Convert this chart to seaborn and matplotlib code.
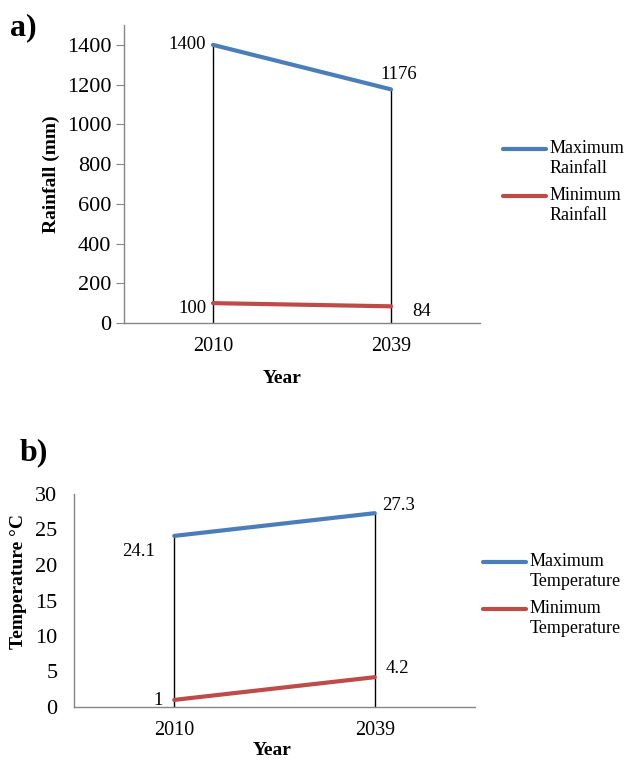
import numpy as np
import pandas as pd
import matplotlib
matplotlib.use("Agg")
import matplotlib.pyplot as plt
from matplotlib.legend_handler import HandlerLine2D
import seaborn as sns

years = ["2010", "2039"]
rain_max = [1400, 1176]
rain_min = [100, 84]
temp_max = [24.1, 27.3]
temp_min = [1, 4.2]
rain_labels = ["Maximum\nRainfall", "Minimum\nRainfall"]
temp_labels = ["Maximum\nTemperature", "Minimum\nTemperature"]

sns.set_style("white")
plt.rcParams['font.family'] = ['Liberation Serif', 'DejaVu Serif']
plt.rcParams['text.color'] = 'black'
plt.rcParams['axes.labelcolor'] = 'black'
plt.rcParams['xtick.color'] = 'black'
plt.rcParams['ytick.color'] = 'black'

BLUE = "#4A7EBB"
RED = "#BE4B48"
GREY = "#868686"


class TopLineHandler(HandlerLine2D):
    def create_artists(self, legend, orig_handle, xdescent, ydescent,
                       width, height, fontsize, trans):
        arts = super().create_artists(legend, orig_handle, xdescent, ydescent,
                                      width, height, fontsize, trans)
        for a in arts:
            a.set_ydata(np.asarray(a.get_ydata()) + 0.55 * fontsize)
        return arts


fig = plt.figure(figsize=(6.25, 7.61), dpi=100)
axA = fig.add_axes([124/625, 1-323/761, 356/625, 298/761])
axB = fig.add_axes([74/625, 1-707/761, 401/625, 213/761])


def make_df(maxv, minv, labels):
    return pd.DataFrame({
        "Year": years * 2,
        "value": list(maxv) + list(minv),
        "series": [labels[0]] * len(years) + [labels[1]] * len(years),
    })


def draw(ax, maxv, minv, labels, ylim, yticks, ylabel, ann, tick_len, tick_pad):
    df = make_df(maxv, minv, labels)
    sns.lineplot(data=df, x="Year", y="value", hue="series",
                 palette=[BLUE, RED], linewidth=3, sort=False, ax=ax,
                 legend=True)
    pos = np.arange(len(years))
    ax.vlines(pos, 0, maxv, color="black", linewidth=1, zorder=1)
    ax.set_xlim(-0.5, len(years) - 0.5)
    ax.set_ylim(*ylim)
    ax.set_yticks(yticks)
    ax.set_xticks(pos)
    ax.set_xticklabels(years)
    for s in ["top", "right"]:
        ax.spines[s].set_visible(False)
    for s in ["left", "bottom"]:
        ax.spines[s].set_color(GREY)
        ax.spines[s].set_linewidth(1)
    ax.tick_params(axis="y", left=True, length=tick_len, color=GREY,
                   labelcolor="black", pad=tick_pad, labelsize=16)
    ax.tick_params(axis="x", length=0, pad=10, labelsize=14.5,
                   labelcolor="black")
    ax.set_xlabel("Year", fontsize=14, fontweight="bold", color="black")
    ax.set_ylabel(ylabel, fontsize=14, fontweight="bold", color="black")
    vals = [maxv, minv]
    for (si, i, dx, dy, ha) in ann:
        v = vals[si][i]
        txt = f"{v:g}"
        ax.annotate(txt, (pos[i], v), xytext=(dx, -dy),
                    textcoords="offset pixels", ha=ha, va="center",
                    fontsize=13.5, color="black")
    ax.get_legend().remove()


annA = [(0, 0, -7, 0, "right"), (0, 1, 8, -15, "center"),
        (1, 0, -6, 5, "right"), (1, 1, 21, 5, "left")]
annB = [(0, 0, -19, 16, "right"), (0, 1, 7, -8, "left"),
        (1, 0, -11, 1, "right"), (1, 1, 11, -9, "left")]

draw(axA, rain_max, rain_min, rain_labels, (0, 1500),
     list(range(0, 1401, 200)), "Rainfall (mm)", annA, 6, 3)
draw(axB, temp_max, temp_min, temp_labels, (0, 30),
     list(range(0, 31, 5)), "Temperature °C", annB, 0, 12)

axA.xaxis.set_label_coords(0.444, -0.158)
axA.yaxis.set_label_coords(-0.18, 0.5)
axB.xaxis.set_label_coords(0.494, -0.164)
axB.yaxis.set_label_coords(-0.117, 0.59)

for ax, labels, x, y in [(axA, rain_labels, 503/625, 1-182/761),
                         (axB, temp_labels, 483/625, 1-595/761)]:
    handles = [plt.Line2D([], [], color=c, linewidth=3) for c in (BLUE, RED)]
    ax.legend(handles, labels, loc="center left", bbox_to_anchor=(x, y),
              bbox_transform=fig.transFigure, frameon=False, fontsize=13,
              handlelength=2.4, handletextpad=0.2, borderpad=0,
              borderaxespad=0, labelspacing=0.55,
              handler_map={plt.Line2D: TopLineHandler()})

fig.text(10/625, 1-13/761, "a)", fontsize=23, fontweight="bold",
         ha="left", va="top")
fig.text(20/625, 1-438/761, "b)", fontsize=23, fontweight="bold",
         ha="left", va="top")

fig.savefig("out.png", dpi=100)
